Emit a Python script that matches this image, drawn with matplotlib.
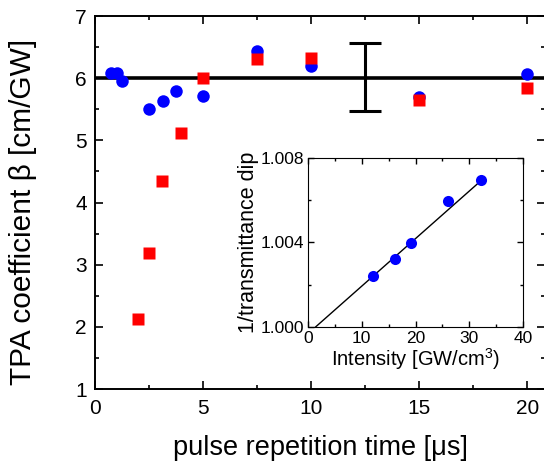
import matplotlib
matplotlib.use("Agg")
import matplotlib.pyplot as plt
from matplotlib.ticker import MultipleLocator

plt.rcParams["font.family"] = ["Liberation Sans", "DejaVu Sans"]
plt.rcParams["mathtext.fontset"] = "custom"
plt.rcParams["mathtext.rm"] = "Liberation Sans"

# main panel: TPA coefficient vs pulse repetition time
blue_t = [0.73, 1.0, 1.25, 2.5, 3.13, 3.75, 5.0, 7.5, 10.0, 15.0, 20.0]
blue_beta = [6.09, 6.09, 5.95, 5.51, 5.63, 5.79, 5.71, 6.43, 6.20, 5.69, 6.06]
red_t = [2.0, 2.5, 3.12, 4.0, 5.0, 7.5, 10.0, 15.0, 20.0]
red_beta = [2.13, 3.19, 4.34, 5.12, 6.01, 6.31, 6.32, 5.65, 5.84]
mean_beta = 6.0
err_x = 12.5
err_y = 6.02
err_size = 0.55

# inset: 1/transmittance dip vs intensity
inset_I = [12.1, 16.1, 19.2, 26.0, 32.2]
inset_dip = [1.00242, 1.00322, 1.00398, 1.00597, 1.00694]
fit_I = [1.4, 32.3]
fit_dip = [1.0000, 1.00695]

fig = plt.figure(figsize=(5.44, 4.66), dpi=100)
ax = fig.add_axes([0.1746, 0.1652, 0.828, 0.8004])

ax.axhline(mean_beta, color="black", lw=2.6, zorder=1)
ax.errorbar([err_x], [err_y], yerr=[err_size], fmt="none", ecolor="black",
            elinewidth=2.2, capsize=11.5, capthick=2.2, zorder=2)
ax.plot(blue_t, blue_beta, "o", color="#0000ff", ms=9, mec="none", zorder=3)
ax.plot(red_t, red_beta, "s", color="#ff0000", ms=8.5, mec="none", zorder=4)

ax.set_xlim(0, 20.83)
ax.set_ylim(1, 7)
ax.xaxis.set_major_locator(MultipleLocator(5))
ax.xaxis.set_minor_locator(MultipleLocator(2.5))
ax.yaxis.set_major_locator(MultipleLocator(1))
ax.yaxis.set_minor_locator(MultipleLocator(0.5))
ax.tick_params(which="both", direction="in", top=True, right=True, width=1.2)
ax.tick_params(which="major", length=6, labelsize=15)
ax.tick_params(axis="x", which="major", pad=7)
ax.tick_params(axis="y", which="major", pad=6)
ax.tick_params(which="minor", length=3)
for s in ax.spines.values():
    s.set_linewidth(1.4)
ax.set_xlabel("pulse repetition time [\u03bcs]", fontsize=19.5, va="top")
ax.xaxis.set_label_coords(0.5, -0.124)
ax.set_ylabel("TPA coefficient \u03b2 [cm/GW]", fontsize=21.5)
ax.yaxis.set_label_coords(-0.128, 0.474)

# inset
ins = fig.add_axes([0.5662, 0.2983, 0.3952, 0.3627])
ins.plot(fit_I, fit_dip, color="black", lw=1)
ins.plot(inset_I, inset_dip, "o", color="#0000ff", ms=8, mec="none")
ins.set_xlim(0, 40)
ins.set_ylim(1.000, 1.008)
ins.xaxis.set_major_locator(MultipleLocator(10))
ins.xaxis.set_minor_locator(MultipleLocator(5))
ins.yaxis.set_major_locator(MultipleLocator(0.004))
ins.yaxis.set_minor_locator(MultipleLocator(0.002))
ins.yaxis.set_major_formatter(plt.FormatStrFormatter("%.3f"))
ins.tick_params(which="both", direction="in", top=True, right=True, width=1)
ins.tick_params(which="major", length=4, labelsize=12.5, pad=3)
ins.tick_params(which="minor", length=2.5)
ins.set_xlabel("Intensity [GW/cm$^3$)", fontsize=14.5, labelpad=0)
ins.set_ylabel("1/transmittance dip", fontsize=15.5, labelpad=1)

fig.savefig("out.png", dpi=100)
